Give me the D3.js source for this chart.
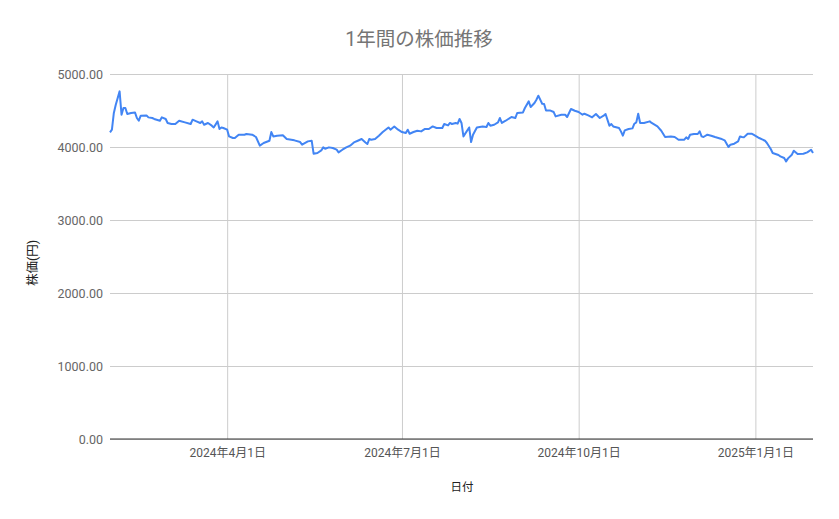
<!DOCTYPE html>
<html>
<head>
<meta charset="utf-8">
<script src="https://cdn.jsdelivr.net/npm/d3@7"></script>
<style>
  body { margin: 0; background: #fff; }
  text { font-family: "Roboto", "Noto Sans CJK JP", sans-serif; }
</style>
</head>
<body>
<div id="chart"></div>
<script>
// trading dates and closing prices
var dates = [
  "2024-01-31","2024-02-01","2024-02-02","2024-02-03","2024-02-05","2024-02-06","2024-02-07","2024-02-08","2024-02-09","2024-02-11",
  "2024-02-13","2024-02-14","2024-02-15","2024-02-16","2024-02-19","2024-02-20","2024-02-22","2024-02-23","2024-02-26","2024-02-27",
  "2024-02-29","2024-03-01","2024-03-03","2024-03-05","2024-03-07","2024-03-10","2024-03-13","2024-03-14","2024-03-16","2024-03-18",
  "2024-03-19","2024-03-20","2024-03-22","2024-03-24","2024-03-25","2024-03-27","2024-03-28","2024-03-29","2024-03-30","2024-04-01",
  "2024-04-02","2024-04-04","2024-04-05","2024-04-07","2024-04-10","2024-04-11","2024-04-14","2024-04-16","2024-04-18","2024-04-20",
  "2024-04-23","2024-04-24","2024-04-25","2024-04-27","2024-04-30","2024-05-02","2024-05-06","2024-05-09","2024-05-10","2024-05-13",
  "2024-05-15","2024-05-16","2024-05-18","2024-05-20","2024-05-21","2024-05-22","2024-05-24","2024-05-26","2024-05-28","2024-05-29",
  "2024-05-31","2024-06-02","2024-06-04","2024-06-06","2024-06-08","2024-06-10","2024-06-12","2024-06-13","2024-06-14","2024-06-15",
  "2024-06-17","2024-06-19","2024-06-21","2024-06-24","2024-06-25","2024-06-27","2024-06-29","2024-07-01","2024-07-03","2024-07-04",
  "2024-07-05","2024-07-07","2024-07-09","2024-07-11","2024-07-13","2024-07-15","2024-07-17","2024-07-19","2024-07-22","2024-07-23",
  "2024-07-25","2024-07-26","2024-07-27","2024-07-29","2024-07-30","2024-07-31","2024-08-01","2024-08-02","2024-08-05","2024-08-06",
  "2024-08-07","2024-08-09","2024-08-12","2024-08-14","2024-08-15","2024-08-16","2024-08-18","2024-08-20","2024-08-21","2024-08-22",
  "2024-08-24","2024-08-27","2024-08-29","2024-08-30","2024-09-02","2024-09-03","2024-09-05","2024-09-06","2024-09-08","2024-09-09",
  "2024-09-10","2024-09-12","2024-09-13","2024-09-14","2024-09-16","2024-09-18","2024-09-19","2024-09-22","2024-09-24","2024-09-25",
  "2024-09-27","2024-09-29","2024-10-01","2024-10-03","2024-10-04","2024-10-06","2024-10-08","2024-10-10","2024-10-12","2024-10-14",
  "2024-10-15","2024-10-17","2024-10-18","2024-10-19","2024-10-22","2024-10-23","2024-10-24","2024-10-25","2024-10-27","2024-10-29",
  "2024-10-30","2024-10-31","2024-11-01","2024-11-02","2024-11-04","2024-11-07","2024-11-08","2024-11-11","2024-11-13","2024-11-15",
  "2024-11-18","2024-11-20","2024-11-22","2024-11-25","2024-11-26","2024-11-27","2024-11-28","2024-11-30","2024-12-02","2024-12-03",
  "2024-12-04","2024-12-05","2024-12-07","2024-12-09","2024-12-11","2024-12-14","2024-12-16","2024-12-18","2024-12-19","2024-12-21",
  "2024-12-23","2024-12-24","2024-12-25","2024-12-26","2024-12-28","2024-12-30","2024-12-31","2025-01-03","2025-01-06","2025-01-07",
  "2025-01-09","2025-01-10","2025-01-13","2025-01-14","2025-01-16","2025-01-17","2025-01-18","2025-01-20","2025-01-21","2025-01-23",
  "2025-01-26","2025-01-28","2025-01-30","2025-01-31"
];

var prices = [
  4200,4237,4466,4580,4762,4442,4534,4534,4452,4466,
  4474,4397,4360,4429,4433,4406,4397,4384,4360,4406,
  4384,4329,4315,4315,4360,4337,4315,4374,4351,4329,
  4351,4305,4329,4292,4268,4351,4247,4268,4260,4237,
  4145,4123,4123,4168,4168,4178,4168,4137,4018,4055,
  4086,4205,4145,4155,4160,4110,4091,4068,4032,4077,
  4086,3908,3918,3953,3995,3977,3995,3986,3963,3926,
  3963,3995,4018,4063,4086,4110,4063,4041,4110,4100,
  4110,4155,4205,4268,4237,4282,4237,4205,4192,4237,
  4182,4205,4223,4214,4247,4247,4282,4260,4260,4315,
  4296,4329,4315,4329,4320,4384,4329,4145,4268,4068,
  4168,4268,4282,4274,4329,4292,4305,4337,4397,4329,
  4360,4411,4397,4466,4474,4534,4625,4548,4603,4648,
  4703,4593,4589,4501,4501,4479,4419,4442,4442,4411,
  4521,4497,4479,4442,4456,4433,4406,4452,4397,4429,
  4452,4292,4315,4282,4260,4214,4155,4228,4247,4255,
  4319,4337,4456,4329,4329,4351,4329,4282,4223,4137,
  4145,4137,4100,4100,4132,4110,4168,4178,4178,4214,
  4145,4137,4168,4155,4137,4114,4091,4000,4032,4045,
  4077,4145,4137,4132,4182,4182,4168,4123,4086,4055,
  3972,3918,3890,3872,3849,3803,3844,3895,3949,3904,
  3908,3926,3963,3918
];

var xTickDates = ["2024-04-01", "2024-07-01", "2024-10-01", "2025-01-01"];
var yTicks = [0, 1000, 2000, 3000, 4000, 5000];

(function () {
  var parseDate = d3.timeParse("%Y-%m-%d");
  var data = dates.map(function (d, i) { return { date: parseDate(d), price: prices[i] }; });

  var width = 839, height = 519;
  var plotLeft = 110, plotRight = 813, plotTop = 74, plotBottom = 439;

  var svg = d3.select("#chart").append("svg")
      .attr("width", width)
      .attr("height", height);

  var x = d3.scaleTime()
      .domain(d3.extent(data, function (d) { return d.date; }))
      .range([plotLeft, plotRight]);

  var y = d3.scaleLinear()
      .domain([0, 5000])
      .range([plotBottom, plotTop]);

  // horizontal gridlines + y labels
  var yAxis = d3.axisLeft(y)
      .tickValues(yTicks)
      .tickSize(-(plotRight - plotLeft))
      .tickPadding(7)
      .tickFormat(d3.format(".2f"));

  svg.append("g")
      .attr("transform", "translate(" + plotLeft + ",0)")
      .call(yAxis)
      .call(function (g) {
        g.select(".domain").remove();
        g.selectAll("line").attr("stroke", "#cccccc");
        g.selectAll("text")
          .attr("fill", "#666666")
          .style("font-size", "12.5px");
      });

  // vertical gridlines + x labels
  var dayFmt = function (d) {
    return d.getFullYear() + "年" + (d.getMonth() + 1) + "月" + d.getDate() + "日";
  };

  var xAxis = d3.axisBottom(x)
      .tickValues(xTickDates.map(parseDate))
      .tickSize(-(plotBottom - plotTop))
      .tickPadding(9)
      .tickFormat(dayFmt);

  svg.append("g")
      .attr("transform", "translate(0," + plotBottom + ")")
      .call(xAxis)
      .call(function (g) {
        g.select(".domain").remove();
        g.selectAll("line").attr("stroke", "#cccccc");
        g.selectAll("text")
          .attr("fill", "#555555")
          .style("font-size", "12px");
      });

  // baseline at zero
  svg.append("line")
      .attr("x1", plotLeft).attr("x2", plotRight)
      .attr("y1", y(0)).attr("y2", y(0))
      .attr("stroke", "#333333")
      .attr("stroke-width", 1.2);

  // the price line
  var line = d3.line()
      .x(function (d) { return x(d.date); })
      .y(function (d) { return y(d.price); });

  svg.append("path")
      .datum(data)
      .attr("fill", "none")
      .attr("stroke", "#4285f4")
      .attr("stroke-width", 2)
      .attr("stroke-linejoin", "round")
      .attr("d", line);

  // titles
  svg.append("text")
      .attr("x", 419)
      .attr("y", 46)
      .attr("text-anchor", "middle")
      .attr("fill", "#757575")
      .style("font-size", "19.5px")
      .text("1年間の株価推移");

  svg.append("text")
      .attr("x", 462)
      .attr("y", 491)
      .attr("text-anchor", "middle")
      .attr("fill", "#222222")
      .style("font-size", "11.5px")
      .text("日付");

  svg.append("text")
      .attr("transform", "translate(37,263) rotate(-90)")
      .attr("text-anchor", "middle")
      .attr("fill", "#222222")
      .style("font-size", "12.5px")
      .text("株価(円)");
})();
</script>
</body>
</html>
